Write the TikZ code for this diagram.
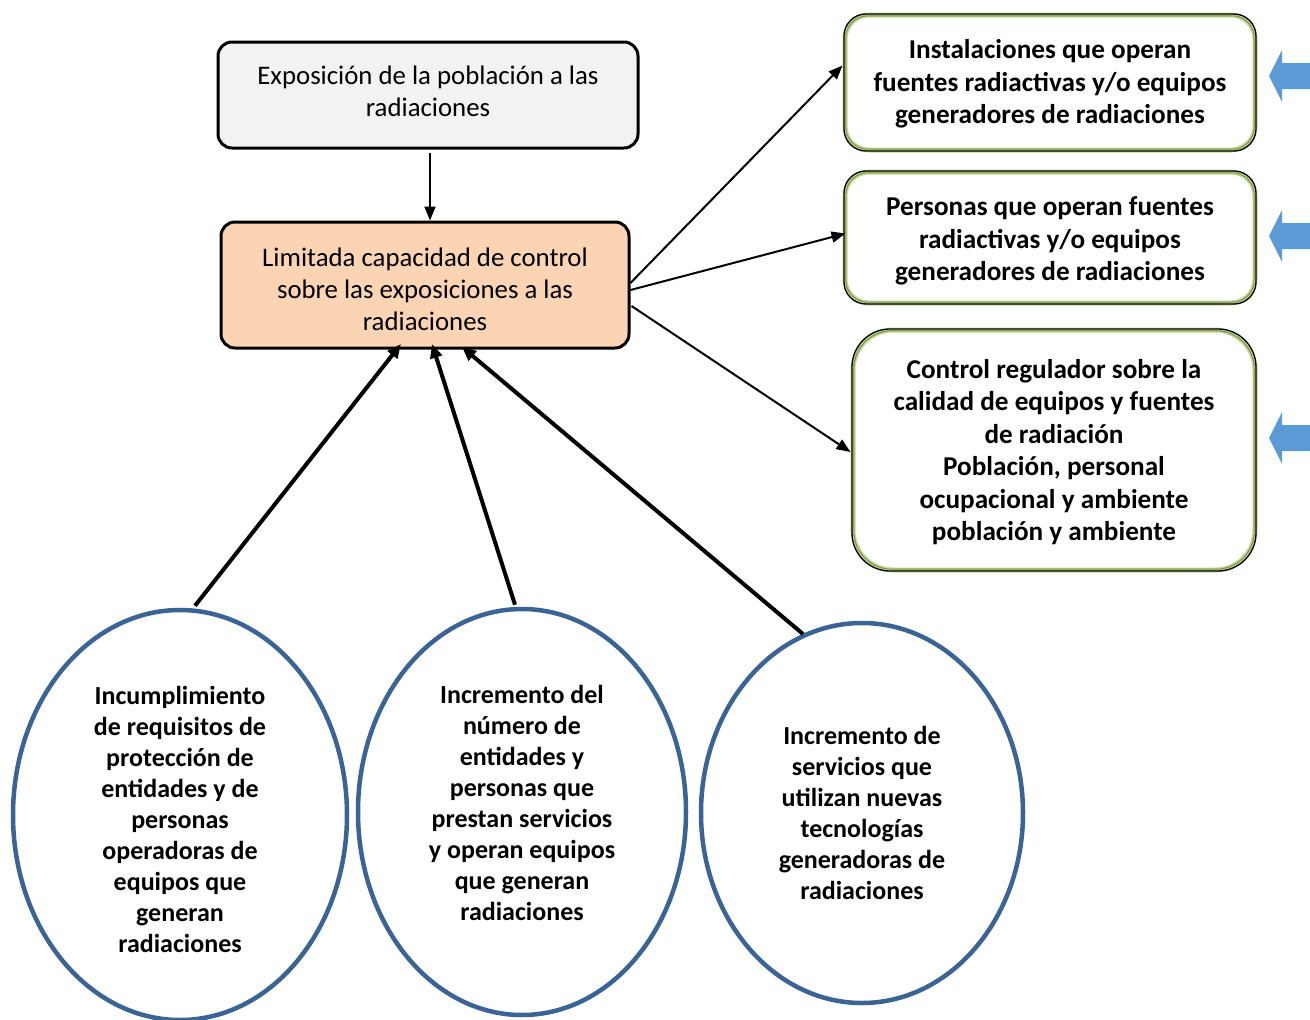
\documentclass[tikz,border=0pt]{standalone}
\usepackage{fontspec}
\setmainfont{Carlito}
\usetikzlibrary{arrows.meta,shapes.geometric,calc}
\definecolor{grayfill}{HTML}{F2F2F2}
\definecolor{orangefill}{HTML}{FBD4B4}
\definecolor{lgreen}{HTML}{C3D69B}
\definecolor{olive}{HTML}{77933C}
\definecolor{ellblue}{HTML}{3A6396}
\definecolor{arrblue}{HTML}{5B9BD5}
\tikzset{
  topbox/.style={draw=black, line width=3pt, rounded corners=14pt, align=center,
    font=\fontsize{26.8}{32}\selectfont, inner sep=0pt},
  rbox/.style={draw=lgreen, fill=white, line width=5pt, align=center,
    font=\bfseries\fontsize{27.2}{32.5}\selectfont, inner sep=0pt},
  cause/.style={ellipse, draw=ellblue, line width=4.5pt, inner sep=0pt},
  causetext/.style={align=center, font=\bfseries\fontsize{26}{31}\selectfont, inner sep=0pt},
  thin/.style={line width=2pt, -{Triangle[length=14pt,width=11pt]}},
  thick/.style={line width=4pt, -{Triangle[length=14pt,width=12pt]}},
  bluearr/.style={fill=arrblue, draw=none}
}
\begin{document}
\begin{tikzpicture}[x=1pt,y=-1pt]
\useasboundingbox (0,0) rectangle (1310,1020);
% top boxes
\node[topbox, fill=grayfill, minimum width=420pt, minimum height=106pt] (expo) at (428,95) {};
\node[topbox, draw=none, anchor=center] (expot) at (428,91)
  {Exposición de la población a las\\radiaciones};
\node[topbox, fill=orangefill, minimum width=408pt, minimum height=126pt] (lim) at (425,285) {};
\node[topbox, draw=none] (limt) at (425,289)
  {Limitada capacidad de control\\sobre las exposiciones a las\\radiaciones};
% right boxes
\node[rbox, rounded corners=24pt, minimum width=410pt, minimum height=135pt] (inst) at (1050,82.5) {};
\node[rbox, draw=none, fill=none] (instt) at (1050,84)
  {Instalaciones que operan\\fuentes radiactivas y/o equipos\\generadores de radiaciones};
\node[rbox, rounded corners=24pt, minimum width=410pt, minimum height=131pt] (pers) at (1050,237.5) {};
\node[rbox, draw=none, fill=none] (perst) at (1050,241)
  {Personas que operan fuentes\\radiactivas y/o equipos\\generadores de radiaciones};
\node[rbox, rounded corners=40pt, minimum width=402pt, minimum height=240pt] (ctrl) at (1054,450) {};
\node[rbox, draw=none, fill=none] (ctrlt) at (1054,452)
  {Control regulador sobre la\\calidad de equipos y fuentes\\de radiación\\Población, personal\\ocupacional y ambiente\\población y ambiente};
% inner double lines of right boxes
\foreach \n/\r in {inst/22pt, pers/22pt, ctrl/38pt}{
  \draw[black, line width=1.3pt, rounded corners=\r]
    ($(\n.north west)+(1.5,1.5)$) rectangle ($(\n.south east)+(-1.5,-1.5)$);
  \draw[olive, line width=1pt, rounded corners=\r]
    ($(\n.north west)+(3.3,3.3)$) rectangle ($(\n.south east)+(-3.3,-3.3)$);
}
% cause ellipses
\node[cause, minimum width=334pt, minimum height=410pt] (c1) at (180,815) {};
\node[causetext] (c1t) at (180,819)
  {Incumplimiento\\de requisitos de\\protección de\\entidades y de\\personas\\operadoras de\\equipos que\\generan\\radiaciones};
\node[cause, minimum width=328pt, minimum height=406pt] (c2) at (522,812) {};
\node[causetext] (c2t) at (522,803)
  {Incremento del\\número de\\entidades y\\personas que\\prestan servicios\\y operan equipos\\que generan\\radiaciones};
\node[cause, minimum width=322pt, minimum height=380pt] (c3) at (862,813) {};
\node[causetext] (c3t) at (862,813)
  {Incremento de\\servicios que\\utilizan nuevas\\tecnologías\\generadoras de\\radiaciones};
% connectors
\coordinate (e1) at (430,153);
\draw[thin] (e1) -- (lim.north -| e1);
\draw[thin] ($(lim.east)+(0,-2)$) -- ($(inst.west)+(0,-17)$);
\draw[thin] ($(lim.east)+(0,5)$) -- ($(pers.west)+(3,-4)$);
\draw[thin] ($(lim.east)+(1,21)$) -- ($(ctrl.west)+(0,2)$);
\draw[thick] (c1.north) ++(15,-2) coordinate (s1) (s1) -- (401,344);
\draw[thick] (c2.north) ++(-7,-2) coordinate (s2) (s2) -- (432,344);
\coordinate (s3) at (803,634);
\draw[thick] (s3) -- (462,347);
% blue block arrows
\foreach \y in {76,236,438}{
  \fill[bluearr] (1269,\y) -- (1282,\y-26) -- (1282,\y-13) -- (1312,\y-13)
    -- (1312,\y+13) -- (1282,\y+13) -- (1282,\y+26) -- cycle;
}
\end{tikzpicture}
\end{document}
